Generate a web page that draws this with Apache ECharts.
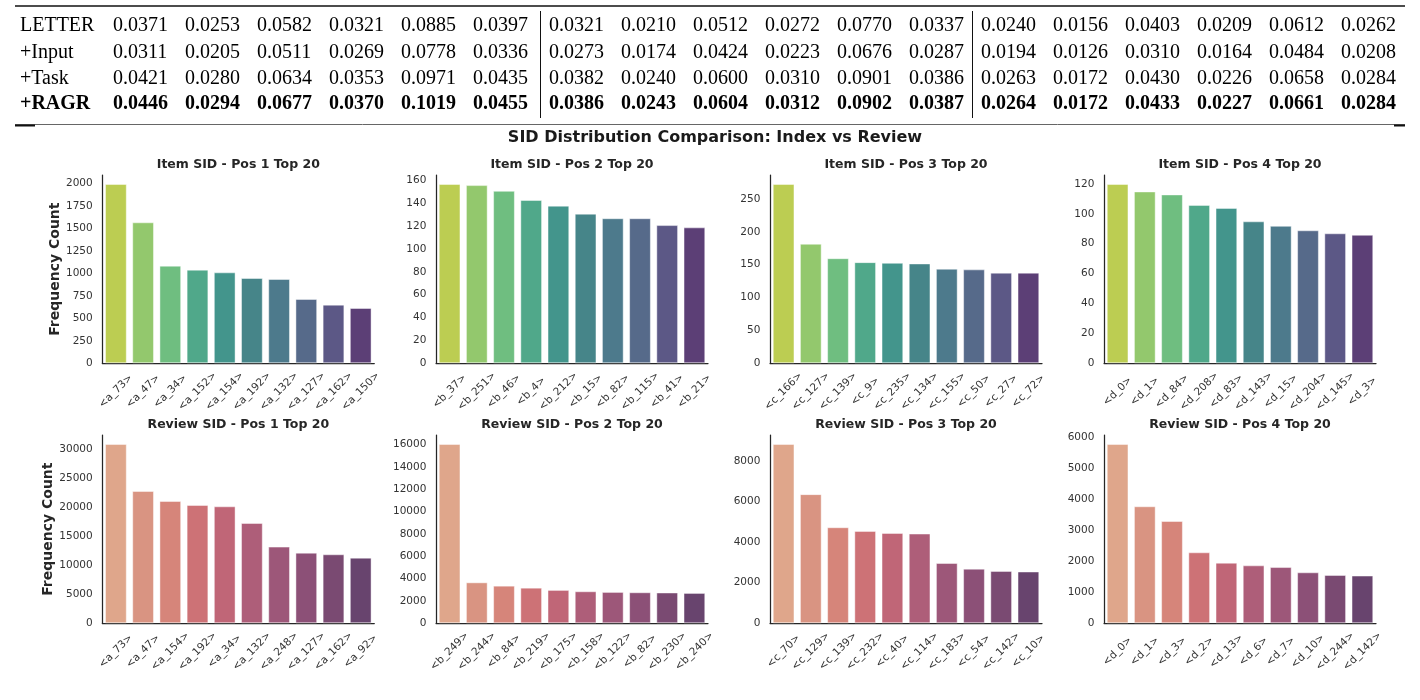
<!DOCTYPE html>
<html><head><meta charset="utf-8">
<script src="https://cdn.jsdelivr.net/npm/echarts@6/dist/echarts.min.js"></script>
<style>html,body{margin:0;padding:0;background:#fff}#c{width:1420px;height:700px}</style>
</head><body><div id="c"></div>
<script>
// ---------- table data ----------
const tableRowLabels = ['LETTER', '+Input', '+Task', '+RAGR'];
const tableRowLetter = [0.0371, 0.0253, 0.0582, 0.0321, 0.0885, 0.0397, 0.0321, 0.0210, 0.0512, 0.0272, 0.0770, 0.0337, 0.0240, 0.0156, 0.0403, 0.0209, 0.0612, 0.0262];
const tableRowInput  = [0.0311, 0.0205, 0.0511, 0.0269, 0.0778, 0.0336, 0.0273, 0.0174, 0.0424, 0.0223, 0.0676, 0.0287, 0.0194, 0.0126, 0.0310, 0.0164, 0.0484, 0.0208];
const tableRowTask   = [0.0421, 0.0280, 0.0634, 0.0353, 0.0971, 0.0435, 0.0382, 0.0240, 0.0600, 0.0310, 0.0901, 0.0386, 0.0263, 0.0172, 0.0430, 0.0226, 0.0658, 0.0284];
const tableRowRAGR   = [0.0446, 0.0294, 0.0677, 0.0370, 0.1019, 0.0455, 0.0386, 0.0243, 0.0604, 0.0312, 0.0902, 0.0387, 0.0264, 0.0172, 0.0433, 0.0227, 0.0661, 0.0284];

// ---------- chart data ----------
const mainTitle = 'SID Distribution Comparison: Index vs Review';
const panelTitles = ['Item SID - Pos 1 Top 20', 'Item SID - Pos 2 Top 20', 'Item SID - Pos 3 Top 20', 'Item SID - Pos 4 Top 20',
                     'Review SID - Pos 1 Top 20', 'Review SID - Pos 2 Top 20', 'Review SID - Pos 3 Top 20', 'Review SID - Pos 4 Top 20'];
const yAxisName = 'Frequency Count';

const itemPos1Labels = ['<a_73>', '<a_47>', '<a_34>', '<a_152>', '<a_154>', '<a_192>', '<a_132>', '<a_127>', '<a_162>', '<a_150>'];
const itemPos1Values = [1993, 1567, 1085, 1041, 1011, 948, 937, 715, 652, 615];
const itemPos2Labels = ['<b_37>', '<b_251>', '<b_46>', '<b_4>', '<b_212>', '<b_15>', '<b_82>', '<b_115>', '<b_41>', '<b_21>'];
const itemPos2Values = [157, 156, 151, 143, 138, 131, 127, 127, 121, 119];
const itemPos3Labels = ['<c_166>', '<c_127>', '<c_139>', '<c_9>', '<c_235>', '<c_134>', '<c_155>', '<c_50>', '<c_27>', '<c_72>'];
const itemPos3Values = [273, 182, 160, 154, 153, 152, 144, 143, 138, 138];
const itemPos4Labels = ['<d_0>', '<d_1>', '<d_84>', '<d_208>', '<d_83>', '<d_143>', '<d_15>', '<d_204>', '<d_145>', '<d_3>'];
const itemPos4Values = [120, 115, 113, 106, 104, 95, 92, 89, 87, 86];

const reviewPos1Labels = ['<a_73>', '<a_47>', '<a_154>', '<a_192>', '<a_34>', '<a_132>', '<a_248>', '<a_127>', '<a_162>', '<a_92>'];
const reviewPos1Values = [30870, 22780, 21060, 20370, 20140, 17270, 13200, 12160, 11880, 11300];
const reviewPos2Labels = ['<b_249>', '<b_244>', '<b_84>', '<b_219>', '<b_175>', '<b_158>', '<b_122>', '<b_82>', '<b_230>', '<b_240>'];
const reviewPos2Values = [16060, 3670, 3370, 3190, 2990, 2870, 2810, 2780, 2760, 2720];
const reviewPos3Labels = ['<c_70>', '<c_129>', '<c_139>', '<c_232>', '<c_40>', '<c_114>', '<c_183>', '<c_54>', '<c_142>', '<c_10>'];
const reviewPos3Values = [8830, 6360, 4730, 4550, 4450, 4420, 2970, 2690, 2580, 2550];
const reviewPos4Labels = ['<d_0>', '<d_1>', '<d_3>', '<d_2>', '<d_13>', '<d_6>', '<d_7>', '<d_10>', '<d_244>', '<d_142>'];
const reviewPos4Values = [5785, 3775, 3300, 2290, 1955, 1870, 1815, 1645, 1560, 1540];

const yTickIntervals = [250, 20, 50, 20, 5000, 2000, 2000, 1000];

// ---------- styling ----------
const itemPalette = ['#bccd52', '#93c86d', '#6fbe80', '#50a88a', '#43958c', '#468589', '#4d7a8c', '#566a8a', '#5c5886', '#5c3f76'];
const reviewPalette = ['#dfa68b', '#d99482', '#d6857a', '#cd7276', '#c06677', '#ae5e79', '#9d5779', '#8c5077', '#7a4a72', '#68446e'];

const panels = [
  {labels: itemPos1Labels, values: itemPos1Values, pal: itemPalette},
  {labels: itemPos2Labels, values: itemPos2Values, pal: itemPalette},
  {labels: itemPos3Labels, values: itemPos3Values, pal: itemPalette},
  {labels: itemPos4Labels, values: itemPos4Values, pal: itemPalette},
  {labels: reviewPos1Labels, values: reviewPos1Values, pal: reviewPalette},
  {labels: reviewPos2Labels, values: reviewPos2Values, pal: reviewPalette},
  {labels: reviewPos3Labels, values: reviewPos3Values, pal: reviewPalette},
  {labels: reviewPos4Labels, values: reviewPos4Values, pal: reviewPalette}
];

const colLefts = [102.3, 436, 770, 1104];
const rowTops = [175, 435];
const gridW = 272, gridH = 188.3;
const SANS = '"DejaVu Sans", sans-serif';
const SERIF = '"Liberation Serif", "Times New Roman", serif';
const axisColor = '#262626';
const tickColor = '#333333';

const grids = [], xAxes = [], yAxes = [], series = [], graphics = [];

panels.forEach((p, i) => {
  const r = Math.floor(i / 4), c = i % 4;
  grids.push({left: colLefts[c], top: rowTops[r], width: gridW, height: gridH, containLabel: false});
  xAxes.push({
    type: 'category', gridIndex: i, data: p.labels,
    axisLine: {show: true, lineStyle: {color: axisColor, width: 1.25}},
    axisTick: {show: false},
    axisLabel: {interval: 0, rotate: 45, align: 'center', verticalAlign: 'middle', margin: 28,
                fontSize: 10.5, color: tickColor, fontFamily: SANS},
    splitLine: {show: false}
  });
  const y = {
    type: 'value', gridIndex: i, min: 0,
    max: (e) => e.max * 1.05,
    interval: yTickIntervals[i],
    axisLine: {show: true, lineStyle: {color: axisColor, width: 1.25}},
    axisTick: {show: false},
    splitLine: {show: false},
    axisLabel: {margin: 9.6, fontSize: 10.5, color: tickColor, fontFamily: SANS, showMaxLabel: false,
                formatter: (v) => String(v)}
  };
  if (c === 0) {
    y.name = yAxisName;
    y.nameLocation = 'middle';
    y.nameGap = r === 0 ? 35.5 : 42;
    y.nameTextStyle = {fontWeight: 'bold', fontSize: 14, color: axisColor, fontFamily: SANS};
  }
  yAxes.push(y);
  series.push({
    type: 'bar', xAxisIndex: i, yAxisIndex: i, data: p.values,
    barCategoryGap: '20%',
    itemStyle: {color: (prm) => p.pal[prm.dataIndex], borderColor: 'rgba(255,255,255,0.45)', borderWidth: 1},
    silent: true, animation: false
  });
  graphics.push({
    type: 'text', x: colLefts[c] + gridW / 2, y: rowTops[r] - 10,
    style: {text: panelTitles[i], font: 'bold 12.5px ' + SANS, fill: axisColor,
            textAlign: 'center', align: 'center', textVerticalAlign: 'middle', verticalAlign: 'middle'}
  });
});

// main title
graphics.push({
  type: 'text', x: 715, y: 138,
  style: {text: mainTitle, font: 'bold 16px ' + SANS, fill: '#1a1a1a',
          textAlign: 'center', align: 'center', textVerticalAlign: 'middle', verticalAlign: 'middle'}
});

// table
const tableRows = [tableRowLetter, tableRowInput, tableRowTask, tableRowRAGR];
const rowYs = [26, 52.5, 78.5, 104];
const groupStarts = [113, 549, 981];
const colStep = 72;
tableRows.forEach((vals, ri) => {
  const bold = ri === 3;
  const font = (bold ? 'bold ' : '') + '20px ' + SERIF;
  graphics.push({type: 'text', x: 20, y: rowYs[ri],
    style: {text: tableRowLabels[ri], font, fill: '#000', textAlign: 'left', align: 'left', textVerticalAlign: 'middle', verticalAlign: 'middle'}});
  vals.forEach((v, k) => {
    const g = Math.floor(k / 6), j = k % 6;
    graphics.push({type: 'text', x: groupStarts[g] + j * colStep, y: rowYs[ri],
      style: {text: v.toFixed(4), font, fill: '#000', textAlign: 'left', align: 'left', textVerticalAlign: 'middle', verticalAlign: 'middle'}});
  });
});
// rules
graphics.push({type: 'line', shape: {x1: 15, y1: 6, x2: 1405, y2: 6}, style: {stroke: '#111', lineWidth: 1.6}});
graphics.push({type: 'line', shape: {x1: 15, y1: 124.5, x2: 1405, y2: 124.5}, style: {stroke: '#666', lineWidth: 1}});
graphics.push({type: 'line', shape: {x1: 15, y1: 125.5, x2: 35, y2: 125.5}, style: {stroke: '#111', lineWidth: 2}});
graphics.push({type: 'line', shape: {x1: 1394, y1: 125.5, x2: 1405, y2: 125.5}, style: {stroke: '#111', lineWidth: 2}});
graphics.push({type: 'line', shape: {x1: 540.5, y1: 11, x2: 540.5, y2: 118}, style: {stroke: '#111', lineWidth: 1}});
graphics.push({type: 'line', shape: {x1: 972.5, y1: 11, x2: 972.5, y2: 118}, style: {stroke: '#111', lineWidth: 1}});

const chart = echarts.init(document.getElementById('c'), null, {renderer: 'canvas'});
chart.setOption({
  backgroundColor: '#ffffff',
  animation: false,
  grid: grids, xAxis: xAxes, yAxis: yAxes, series: series,
  graphic: graphics
});
</script></body></html>
